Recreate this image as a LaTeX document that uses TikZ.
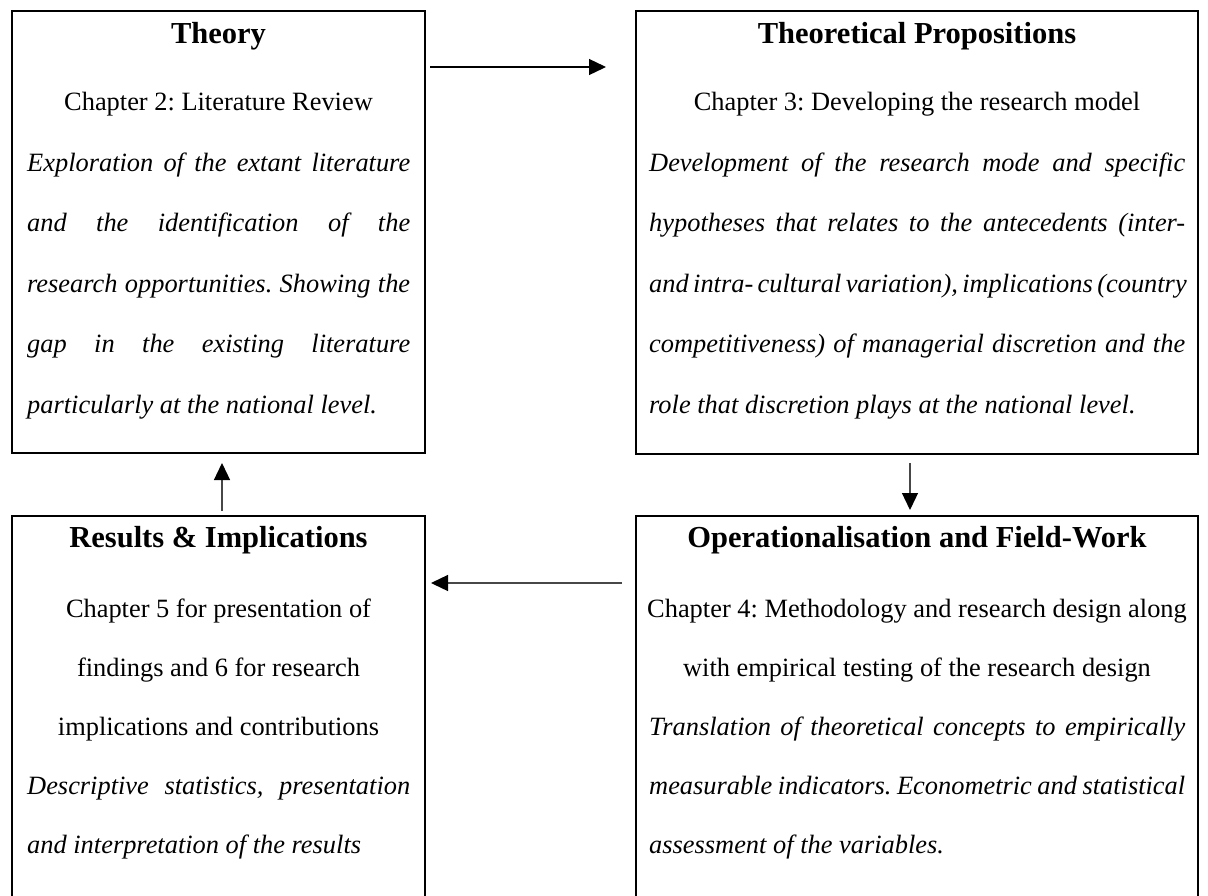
\documentclass[tikz,border=0pt]{standalone}
\usepackage{fontspec}
\setmainfont{Liberation Serif}
\usetikzlibrary{arrows.meta,calc}
\tikzset{
  box/.style={draw=black, line width=2pt, rectangle, inner sep=0pt, outer sep=0pt},
  ttl/.style={anchor=base, inner sep=0pt, font=\fontsize{30.5}{36}\selectfont\bfseries},
  ctr/.style={anchor=base, inner sep=0pt, font=\fontsize{26.4}{30}\selectfont},
  jus/.style={anchor=base west, inner sep=0pt, font=\fontsize{26.4}{30}\selectfont\itshape},
  arr/.style={line width=1.3pt, -{Triangle[length=17pt,width=16pt,color=black]}},
  garr/.style={arr, draw=black!72}
}
\newcommand{\jl}[2]{\makebox[#1][s]{#2}}
\frenchspacing
\begin{document}
\begin{tikzpicture}[x=1pt,y=-1pt]
\useasboundingbox (0,0) rectangle (1208,895);
\clip (0,0) rectangle (1208,895);
% boxes
\node[box, minimum width=413pt, minimum height=442pt] (theory) at (218.5,232) {};
\node[box, minimum width=562pt, minimum height=443pt] (props) at (917,232.5) {};
\node[box, minimum width=413pt, minimum height=420pt] (results) at (218.5,726) {};
\node[box, minimum width=562pt, minimum height=420pt] (oper) at (917,726) {};
% Theory
\node[ttl] (t0) at (218.5,43) {Theory};
\node[ctr] (t1) at (218.5,110) {Chapter 2: Literature Review};
\node[jus] (t2) at (27,171) {\jl{383pt}{Exploration of the extant literature}};
\node[jus] (t3) at (27,231.5) {\jl{383pt}{and the identification of the}};
\node[jus] (t4) at (27,292) {\jl{383pt}{research opportunities. Showing the}};
\node[jus] (t5) at (27,352.5) {\jl{383pt}{gap in the existing literature}};
\node[jus] (t6) at (27,413) {particularly at the national level.};
% Theoretical Propositions
\node[ttl] (p0) at (917,43) {Theoretical Propositions};
\node[ctr] (p1) at (917,110) {Chapter 3: Developing the research model};
\node[jus] (p2) at (649,171) {\jl{536pt}{Development of the research mode and specific}};
\node[jus] (p3) at (649,231.5) {\jl{536pt}{hypotheses that relates to the antecedents (inter-}};
\node[jus] (p4) at (649,292) {\jl{536pt}{and intra- cultural variation), implications (country}};
\node[jus] (p5) at (649,352.5) {\jl{536pt}{competitiveness) of managerial discretion and the}};
\node[jus] (p6) at (649,413) {role that discretion plays at the national level.};
% Results
\node[ttl] (r0) at (218.5,547) {Results \& Implications};
\node[ctr] (r1) at (218.5,617) {Chapter 5 for presentation of};
\node[ctr] (r2) at (218.5,676) {findings and 6 for research};
\node[ctr] (r3) at (218.5,735) {implications and contributions};
\node[jus] (r4) at (27,794) {\jl{383pt}{Descriptive statistics, presentation}};
\node[jus] (r5) at (27,853) {and interpretation of the results};
% Operationalisation
\node[ttl] (o0) at (917,547) {Operationalisation and Field-Work};
\node[ctr] (o1) at (917,617) {Chapter 4: Methodology and research design along};
\node[ctr] (o2) at (917,676) {with empirical testing of the research design};
\node[jus] (o3) at (649,735) {\jl{536pt}{Translation of theoretical concepts to empirically}};
\node[jus] (o4) at (649,794) {\jl{536pt}{measurable indicators. Econometric and statistical}};
\node[jus] (o5) at (649,853) {assessment of the variables.};
% arrows
\draw[arr] ($(theory.north east)+(5,56)$) -- ($(props.north west)+(-30,56)$);
\draw[garr] ($(props.south)+(-7,9)$) -- ($(oper.north)+(-7,-6)$);
\draw[garr] ($(oper.north west)+(-14,67)$) -- ($(results.north east)+(6,67)$);
\draw[garr] ($(results.north)+(3.5,-5)$) -- ($(theory.south)+(3.5,10)$);
\end{tikzpicture}
\end{document}
